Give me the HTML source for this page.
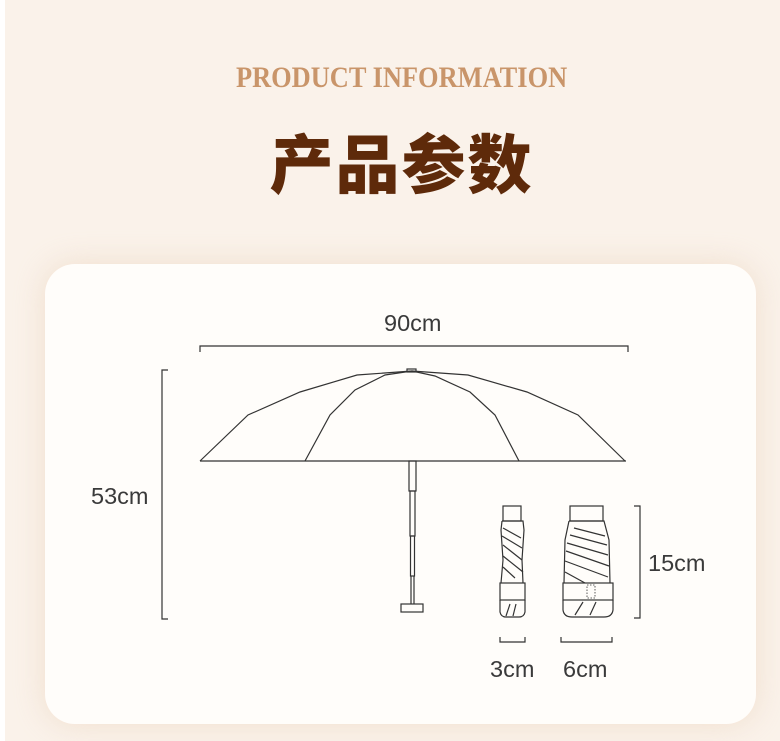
<!DOCTYPE html>
<html><head><meta charset="utf-8"><style>
body{margin:0;width:780px;height:741px;overflow:hidden;background:#faf2ea;position:relative;font-family:"Liberation Sans","Noto Sans CJK SC",sans-serif}
.strip{position:absolute;left:0;top:0;width:5px;height:741px;background:#fff}
.en{position:absolute;left:0;width:803px;top:61px;text-align:center;font-family:"Liberation Serif",serif;font-size:30px;font-weight:bold;color:#c9956a;transform:scaleX(0.88);transform-origin:402px 0;white-space:nowrap}
.cn{position:absolute;left:0;width:803px;top:121px;text-align:center;font-family:"Noto Sans CJK SC",sans-serif;font-weight:900;font-size:64px;line-height:80px;color:#5e2a0a;letter-spacing:2px}
.card{position:absolute;left:45px;top:264px;width:711px;height:460px;background:#fffdfa;border-radius:30px;box-shadow:0 0 30px rgba(230,200,170,0.45)}
svg{position:absolute;left:0;top:0}
.t{position:absolute;font-size:23.5px;color:#3a3a3a}
</style></head><body>
<div class="strip"></div>
<div class="en">PRODUCT INFORMATION</div>
<div class="cn">产品参数</div>
<div class="card"></div>
<svg width="780" height="741" fill="none" stroke="#333" stroke-width="1.2">
<path d="M200 352V346H628V352"/>
<path d="M168 370H162V619H168"/>
<path d="M634 506H640V618H634"/>
<path d="M500 637V642H525V637"/>
<path d="M561 637V642H612V637"/>
<path d="M200 461H626"/>
<path d="M200 461L248 415L300 392L357 375L412 371L468 375L527 392L578 415L625 461"/>
<path d="M305 461L330 415L355 390L385 375L412 371L435 376L470 392L495 415L519 461"/>
<rect x="407" y="369" width="9" height="3"/>
<rect x="409" y="461" width="7" height="30"/>
<rect x="410" y="491" width="5" height="45"/>
<rect x="410.5" y="536" width="4" height="40"/>
<path d="M411 576V604M414 576V604"/>
<rect x="401" y="604" width="22" height="8"/>
<rect x="503" y="506" width="18" height="15"/>
<path d="M502 521H523L524 530L522 560L523 583M502 521L501 530L503 560L501 583"/>
<rect x="500" y="583" width="25" height="17"/>
<path d="M500 600V612Q501 617 506 617H519Q524 617 525 612V600"/>
<path d="M503 528L521 538M502 536L522 548M503 545L522 560M503 556L523 572M503 567L515 578M506 616L510 604M513 616L516 604"/>
<rect x="570" y="506" width="33" height="15"/>
<path d="M569 521H604L609 540L610 583M569 521L565 540L564 583"/>
<rect x="563" y="583" width="50" height="17"/>
<path d="M563 600V610Q564 617 572 617H604Q612 617 613 610V600"/>
<path d="M574 528L605 536M570 535L607 545M567 543L608 555M566 551L609 566M565 561L608 577M565 572L585 583M575 615L583 602M590 615L596 602"/>
<rect x="587" y="585" width="8" height="13" stroke-dasharray="1.5 1.5" stroke-width="0.8"/>
</svg>
<div class="t" style="left:384px;top:310px">90cm</div>
<div class="t" style="left:91px;top:483px">53cm</div>
<div class="t" style="left:648px;top:550px">15cm</div>
<div class="t" style="left:490px;top:656px">3cm</div>
<div class="t" style="left:563px;top:656px">6cm</div>
</body></html>
